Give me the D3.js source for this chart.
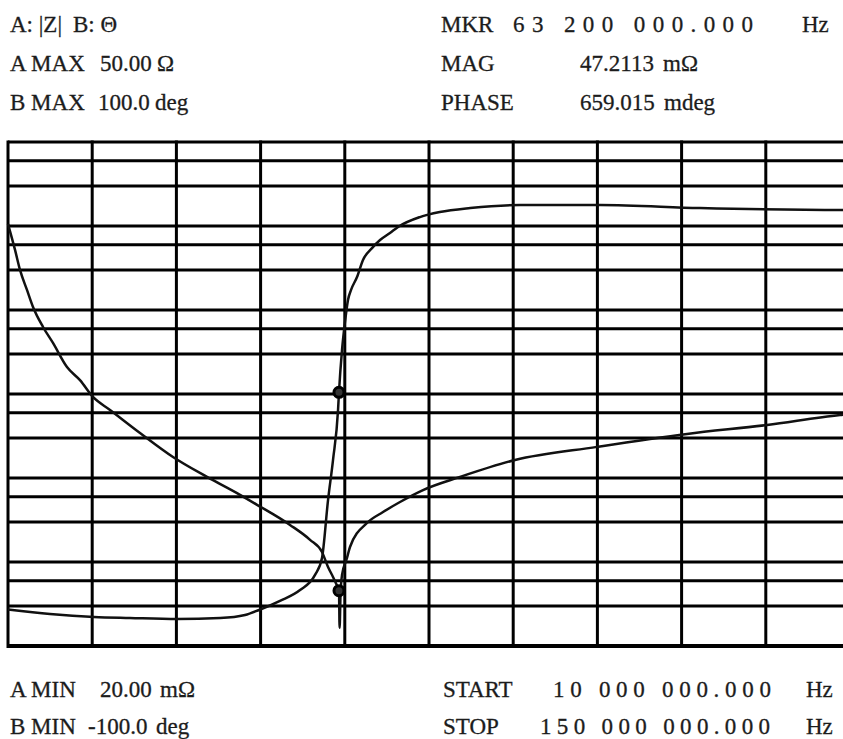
<!DOCTYPE html>
<html>
<head>
<meta charset="utf-8">
<script src="https://cdn.jsdelivr.net/npm/d3@7"></script>
<style>
  html, body { margin: 0; padding: 0; background: #fff; }
  svg { display: block; }
  text { font-family: "Liberation Serif", "Times New Roman", serif; fill: #1c1c1c; stroke: #1c1c1c; stroke-width: 0.3; white-space: pre; }
</style>
</head>
<body>
<svg id="chart" width="843" height="739"></svg>
<script>
// Sweep and display scale settings
const freqStartMHz = 10;
const freqStopMHz = 150;
const zMinOhm = 0.02;
const zMaxOhm = 50;
const phaseMinDeg = -100;
const phaseMaxDeg = 100;

// Marker readout
const markerFreqMHz = 63.2;
const markerMagOhm = 0.0472113;
const markerPhaseDeg = 0.659015;

// Trace A: impedance magnitude |Z| (ohm) against frequency (MHz)
const zFreqMHz = [10.0, 11.13, 11.93, 13.05, 14.02, 15.63, 17.23, 19.48, 21.57, 23.66,
  26.40, 31.22, 36.52, 41.99, 47.29, 50.03, 55.33, 58.55, 60.47, 61.44, 62.24, 62.8,
  63.2, 63.3, 63.45, 63.69, 64.49, 64.97, 67.71, 70.28, 73.01, 76.71, 82.66, 91.50,
  104.68, 119.15, 132.01, 143.74, 150.0];
const zMagOhm = [14.0, 9.36, 6.86, 5.03, 3.86, 2.83, 2.21, 1.52, 1.24, 0.955,
  0.781, 0.546, 0.376, 0.276, 0.209, 0.179, 0.131, 0.104, 0.0861, 0.0682, 0.0584, 0.052,
  0.0472113, 0.0265, 0.045, 0.0602, 0.0784, 0.0930, 0.135, 0.160, 0.187, 0.225, 0.276, 0.359,
  0.440, 0.538, 0.618, 0.722, 0.756];

// Trace B: phase angle (deg) against frequency (MHz)
const phFreqMHz = [10.0, 16.75, 23.82, 29.6, 37.17, 44.1, 48.1, 50.35, 53.72, 56.94,
  59.35, 60.47, 61.44, 62.24, 63.05, 63.2, 63.69, 64.17, 64.65, 65.14, 66.1, 67.06,
  68.51, 69.8, 71.4, 72.7, 76.2, 79.4, 84.3, 92.3, 105.2, 121.2, 144.2, 150.0];
const phDeg = [-85.5, -87.3, -88.5, -88.9, -89.3, -88.9, -87.7, -85.7, -82.1, -77.8,
  -71.8, -65.1, -42.1, -26.2, -6.3, 0.659015, 17.5, 28.6, 37.3, 41.3, 46.4, 53.2,
  57.9, 61.1, 63.9, 66.3, 70.2, 72.2, 73.8, 75.0, 75.0, 73.8, 73.0, 73.0];

// Screen graticule: columns, rows and the two minor rules inside each row
const gridColumns = 10;
const gridRowCount = 6;
const rowRuleFractions = [0.222, 0.523];

// Readout captions
const traceCaptions = ["A: |Z|", "B: Θ"];
const upperCaptions = ["A MAX", "B MAX"];
const lowerCaptions = ["A MIN", "B MIN"];
const markerCaptions = ["MKR", "MAG", "PHASE"];
const sweepCaptions = ["START", "STOP"];
const unitCaptions = ["Ω", "mΩ", "deg", "mdeg", "Hz"];

// ---- layout ----
const svg = d3.select("#chart");
const frame = { left: 8, top: 142, right: 850, bottom: 646 };
const sweepRight = 879;

const x = d3.scaleLinear().domain([freqStartMHz, freqStopMHz]).range([frame.left, sweepRight]);
const yZ = d3.scaleLog().domain([zMinOhm, zMaxOhm]).range([frame.bottom, frame.top]);
const yPh = d3.scaleLinear().domain([phaseMinDeg, phaseMaxDeg]).range([frame.bottom, frame.top]);

const colScale = d3.scaleLinear().domain([0, gridColumns]).range([frame.left, frame.right]);
const rowScale = d3.scaleLinear().domain([0, gridRowCount]).range([frame.top, frame.bottom]);

// graticule
const g = svg.append("g").attr("stroke", "#000").attr("fill", "none");
const rowPositions = [];
d3.range(gridRowCount + 1).forEach(r => {
  rowPositions.push(r);
  if (r < gridRowCount) rowRuleFractions.forEach(f => rowPositions.push(r + f));
});
g.selectAll("line.h").data(rowPositions).join("line")
  .attr("class", "h")
  .attr("x1", frame.left).attr("x2", frame.right)
  .attr("y1", d => rowScale(d)).attr("y2", d => rowScale(d))
  .attr("stroke-width", d => d === gridRowCount ? 4 : 3);
g.selectAll("line.v").data(d3.range(gridColumns + 1)).join("line")
  .attr("class", "v")
  .attr("x1", d => colScale(d)).attr("x2", d => colScale(d))
  .attr("y1", frame.top - 1.5).attr("y2", frame.bottom + 2)
  .attr("stroke-width", 3);

// traces
const zLine = d3.line().curve(d3.curveMonotoneX)
  .x((d, i) => x(zFreqMHz[i])).y(d => yZ(d));
const phLine = d3.line().curve(d3.curveMonotoneX)
  .x((d, i) => x(phFreqMHz[i])).y(d => yPh(d));
const traces = svg.append("g").attr("fill", "none").attr("stroke", "#111")
  .attr("stroke-width", 2.5).attr("stroke-linejoin", "round");
traces.append("path").attr("d", zLine(zMagOhm));
traces.append("path").attr("d", phLine(phDeg));

// markers
const markerPts = [yZ(markerMagOhm), yPh(markerPhaseDeg)];
svg.append("g").selectAll("circle").data(markerPts).join("circle")
  .attr("cx", x(markerFreqMHz)).attr("cy", d => d).attr("r", 5)
  .attr("fill", "#333").attr("stroke", "#000").attr("stroke-width", 3);

// readouts
const fmtHz = mhz => d3.format(",.3f")(mhz * 1e6).replace(/,/g, " ");
const fs = 23;
const txt = (s, tx, ty, w) => {
  const t = svg.append("text").attr("x", tx).attr("y", ty).attr("font-size", fs).text(s);
  if (w) t.attr("textLength", w).attr("lengthAdjust", "spacing");
  return t;
};

const rowTop = [32, 71, 110];
const rowBottom = [697, 734];

txt(traceCaptions[0], 10, rowTop[0]);
txt(traceCaptions[1], 73, rowTop[0]);
txt(upperCaptions[0], 10, rowTop[1]);
txt(zMaxOhm.toFixed(2), 100, rowTop[1]);
txt(unitCaptions[0], 157, rowTop[1]);
txt(upperCaptions[1], 10, rowTop[2]);
txt(phaseMaxDeg.toFixed(1), 98, rowTop[2]);
txt(unitCaptions[2], 155, rowTop[2]);

txt(markerCaptions[0], 441, rowTop[0]);
txt(fmtHz(markerFreqMHz), 513, rowTop[0], 240);
txt(unitCaptions[4], 802, rowTop[0]);
txt(markerCaptions[1], 441, rowTop[1]);
txt((markerMagOhm * 1000).toFixed(4), 580, rowTop[1]);
txt(unitCaptions[1], 663, rowTop[1]);
txt(markerCaptions[2], 441, rowTop[2]);
txt((markerPhaseDeg * 1000).toFixed(3), 580, rowTop[2]);
txt(unitCaptions[3], 664, rowTop[2]);

txt(lowerCaptions[0], 10, rowBottom[0]);
txt((zMinOhm * 1000).toFixed(2), 100, rowBottom[0]);
txt(unitCaptions[1], 160, rowBottom[0]);
txt(lowerCaptions[1], 10, rowBottom[1]);
txt(phaseMinDeg.toFixed(1), 88, rowBottom[1]);
txt(unitCaptions[2], 156, rowBottom[1]);

txt(sweepCaptions[0], 443, rowBottom[0]);
txt(fmtHz(freqStartMHz), 553, rowBottom[0], 218);
txt(unitCaptions[4], 806, rowBottom[0]);
txt(sweepCaptions[1], 443, rowBottom[1]);
txt(fmtHz(freqStopMHz), 540, rowBottom[1], 230);
txt(unitCaptions[4], 806, rowBottom[1]);
</script>
</body>
</html>
